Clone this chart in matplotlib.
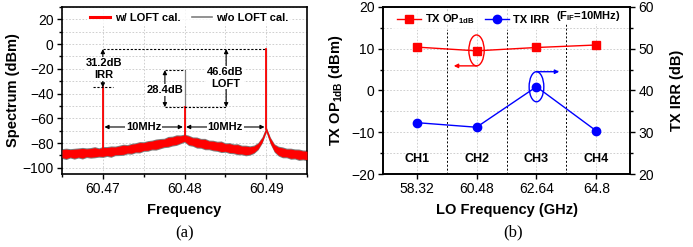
import matplotlib
matplotlib.use("Agg")
import matplotlib.pyplot as plt
from matplotlib.patches import Ellipse
from matplotlib.ticker import MultipleLocator, FixedLocator
from matplotlib.lines import Line2D
import numpy as np

plt.rcParams['font.family'] = ['Liberation Sans', 'DejaVu Sans']
plt.rcParams['mathtext.fontset'] = 'custom'
plt.rcParams['mathtext.rm'] = 'Liberation Sans'
plt.rcParams['mathtext.bf'] = 'Liberation Sans:bold'

# ---------------- Panel (a) data ----------------
noise_freq = [60.4650, 60.4655, 60.4660, 60.4665, 60.4670, 60.4675, 60.4680, 60.4685, 60.4690, 60.4695,
              60.4700, 60.4705, 60.4710, 60.4715, 60.4720, 60.4725, 60.4730, 60.4735, 60.4740, 60.4745,
              60.4750, 60.4755, 60.4760, 60.4765, 60.4770, 60.4775, 60.4780, 60.4785, 60.4790, 60.4795,
              60.4800, 60.4805, 60.4810, 60.4815, 60.4820, 60.4825, 60.4830, 60.4835, 60.4840, 60.4845,
              60.4850, 60.4855, 60.4860, 60.4865, 60.4870, 60.4875, 60.4880, 60.4885, 60.4890, 60.4895,
              60.4900, 60.4905, 60.4910, 60.4915, 60.4920, 60.4925, 60.4930, 60.4935, 60.4940, 60.4945,
              60.4950]
noise_center = [-88.5, -88.7, -88.3, -88.6, -88.0, -88.2, -87.8, -87.9, -87.4, -87.6,
                -87.2, -86.8, -86.9, -86.3, -85.9, -85.4, -85.0, -84.6, -83.8, -83.4,
                -82.8, -82.3, -81.6, -81.2, -80.5, -79.9, -79.0, -78.4, -77.6, -77.0,
                -76.0, -77.8, -78.8, -79.6, -80.2, -80.8, -81.5, -82.0, -82.6, -83.0,
                -83.6, -84.0, -84.6, -85.0, -85.6, -86.0, -86.0, -85.0, -82.5, -77.5,
                -69.0, -78.0, -84.0, -86.5, -87.5, -88.0, -88.6, -88.8, -89.4, -89.6,
                -90.0]
noise_half = [3.2, 3.8, 3.0, 3.6, 3.3, 3.9, 3.1, 3.5, 3.7, 3.0,
              3.6, 3.2, 3.8, 3.1, 3.4, 3.7, 3.0, 3.6, 3.3, 3.8,
              3.1, 3.5, 3.2, 3.7, 3.4, 3.0, 3.6, 3.2, 3.5, 2.8,
              2.5, 3.4, 3.0, 3.7, 3.2, 3.8, 3.1, 3.5, 3.3, 3.9,
              3.0, 3.6, 3.2, 3.7, 3.1, 3.5, 3.0, 2.6, 2.2, 1.8,
              1.5, 2.0, 2.6, 3.2, 3.6, 3.1, 3.7, 3.3, 3.8, 3.2,
              3.5]
tone_freq = [60.47, 60.48, 60.49]
tone_red = [-35, -51, -4]      # with LOFT calibration
tone_gray = [-35, -22, -4]     # without LOFT calibration
tone_base = [-86, -76, -69]

# ---------------- Panel (b) data ----------------
channels = ['CH1', 'CH2', 'CH3', 'CH4']
lo_freq_labels = ['58.32', '60.48', '62.64', '64.8']
tx_op1db = [10.4, 9.5, 10.3, 10.9]
tx_irr = [32.3, 31.2, 40.9, 30.3]

fig = plt.figure(figsize=(6.93, 2.47), dpi=100)

RED = '#ff0000'
GRAY = '#7f7f7f'
BLUE = '#0000ff'
grid_kw = dict(color='#c8c8c8', linestyle=(0, (2, 2)), linewidth=0.6)

# ================= Panel (a) =================
ax = fig.add_axes([62/693, 1-174/247, 245/693, 167/247])
nf = np.array(noise_freq)
nc = np.array(noise_center)
nh = np.array(noise_half)
ax.fill_between(nf, nc - nh - 0.8, nc + nh + 0.8, color=GRAY, lw=0, zorder=2)
ax.fill_between(nf, nc - nh, nc + nh, color=RED, lw=0, zorder=3)
for f, b, g in zip(tone_freq, tone_base, tone_gray):
    ax.plot([f, f], [b, g], color=GRAY, lw=0.9, zorder=2.5)
for f, b, r in zip(tone_freq, tone_base, tone_red):
    ax.plot([f, f], [b, r], color=RED, lw=1.3, zorder=3.5)

ax.set_xlim(60.465, 60.495)
ax.set_ylim(-105, 30)
ax.xaxis.set_major_locator(FixedLocator([60.47, 60.48, 60.49]))
ax.xaxis.set_minor_locator(MultipleLocator(0.005))
ax.yaxis.set_major_locator(MultipleLocator(20))
ax.yaxis.set_minor_locator(MultipleLocator(10))
ax.set_xticklabels(['60.47', '60.48', '60.49'])
ax.grid(True, which='both', **grid_kw)
ax.set_axisbelow(True)
ax.tick_params(which='both', direction='out', labelsize=10, width=1, pad=2.5)
ax.tick_params(which='major', length=3.5)
ax.tick_params(which='minor', length=2)
for s in ax.spines.values():
    s.set_linewidth(1.2)
ax.set_xlabel('Frequency', fontsize=10.5, fontweight='bold')
ax.set_ylabel('Spectrum (dBm)', fontsize=10.5, fontweight='bold')
ax.xaxis.set_label_coords(0.5, -0.174)
ax.yaxis.set_label_coords(-0.171, 0.5)

h1 = Line2D([], [], color=RED, lw=2.2)
h2 = Line2D([], [], color=GRAY, lw=1.2)
leg = ax.legend([h1, h2], ['w/ LOFT cal.', 'w/o LOFT cal.'], loc='upper center',
                bbox_to_anchor=(0.52, 1.02), ncol=2, frameon=True, fancybox=False,
                prop={'weight': 'bold', 'size': 8}, handlelength=1.8, handletextpad=0.4,
                columnspacing=1.0, borderpad=0.3)
leg.get_frame().set_facecolor('white')
leg.get_frame().set_edgecolor('none')

dash = dict(color='black', lw=0.8, linestyle=(0, (2, 1.5)), zorder=4)
ax.plot([60.47, 60.49], [-4, -4], **dash)
ax.plot([60.4688, 60.4712], [-35, -35], **dash)
ax.plot([60.4776, 60.48], [-21, -21], **dash)
ax.plot([60.4776, 60.4851], [-51, -51], **dash)

arr = dict(arrowstyle='<|-|>', color='black', lw=0.8, mutation_scale=6, shrinkA=0, shrinkB=0)
ax.annotate('', xy=(60.47, -4), xytext=(60.47, -35), arrowprops=arr, zorder=5)
ax.annotate('', xy=(60.4851, -4), xytext=(60.4851, -51), arrowprops=arr, zorder=5)
ax.annotate('', xy=(60.4776, -21), xytext=(60.4776, -51), arrowprops=arr, zorder=5)
ax.annotate('', xy=(60.4702, -67), xytext=(60.4798, -67), arrowprops=arr, zorder=5)
ax.annotate('', xy=(60.4802, -67), xytext=(60.4898, -67), arrowprops=arr, zorder=5)

tb = dict(facecolor='white', edgecolor='none', pad=0.5)
tk = dict(fontsize=8, fontweight='bold', ha='center', va='center', zorder=6, bbox=tb)
ax.text(60.4701, -20, '31.2dB\nIRR', linespacing=1.25, **tk)
ax.text(60.4776, -37, '28.4dB', **tk)
ax.text(60.4850, -27, '46.6dB\nLOFT', linespacing=1.25, **tk)
ax.text(60.475, -67, '10MHz', **tk)
ax.text(60.485, -67, '10MHz', **tk)

# ================= Panel (b) =================
bx = fig.add_axes([383/693, 1-174/247, 247/693, 167/247])
x = np.arange(len(channels))
bx.set_xlim(-0.56, 3.56)
bx.set_ylim(-20, 20)
bx.yaxis.set_major_locator(MultipleLocator(10))
bx.yaxis.set_minor_locator(MultipleLocator(5))
bx.set_xticks(x)
bx.set_xticklabels(lo_freq_labels)
bx.grid(True, which='both', axis='y', **grid_kw)
bx.grid(True, which='major', axis='x', **grid_kw)
bx.set_axisbelow(True)
for xm in [0.5, 1.5, 2.5]:
    bx.plot([xm, xm], [-20, 20], color='black', lw=0.7, linestyle=(0, (2, 2)), zorder=1)
bx.tick_params(which='both', direction='out', labelsize=10, width=1, pad=2.5)
bx.tick_params(which='major', length=3.5)
bx.tick_params(which='minor', length=2)
for s in bx.spines.values():
    s.set_linewidth(1.2)
bx.set_xlabel('LO Frequency (GHz)', fontsize=10.5, fontweight='bold')
bx.set_ylabel(r'TX OP$_{\mathbf{1dB}}$ (dBm)', fontsize=10.5, fontweight='bold')
bx.xaxis.set_label_coords(0.5, -0.174)
bx.yaxis.set_label_coords(-0.154, 0.5)

bx2 = bx.twinx()
bx2.set_ylim(20, 60)
bx2.yaxis.set_major_locator(MultipleLocator(10))
bx2.yaxis.set_minor_locator(MultipleLocator(5))
bx2.tick_params(which='both', direction='out', labelsize=10, width=1, pad=2.5)
bx2.tick_params(which='major', length=3.5)
bx2.tick_params(which='minor', length=2)
for s in bx2.spines.values():
    s.set_linewidth(1.2)
bx2.set_ylabel('TX IRR (dB)', fontsize=10.5, fontweight='bold')
bx2.yaxis.set_label_coords(1.162, 0.5)

l1, = bx.plot(x, tx_op1db, color=RED, lw=1.0, marker='s', ms=5.5, zorder=5)
l2, = bx2.plot(x, tx_irr, color=BLUE, lw=1.0, marker='o', ms=6, zorder=5)

for i, c in enumerate(channels):
    bx.text(i, -16.3, c, fontsize=9, fontweight='bold', ha='center', va='center')

# ellipses and arrows
bx.add_patch(Ellipse((1, 9.6), 0.256, 7.4, fill=False, edgecolor=RED, lw=1.0, zorder=6))
bx.annotate('', xy=(0.62, 5.9), xytext=(1.0, 5.9),
            arrowprops=dict(arrowstyle='-|>', color=RED, lw=1.0, mutation_scale=6,
                            shrinkA=0, shrinkB=0), zorder=6)
bx.add_patch(Ellipse((2, 0.9), 0.245, 7.2, fill=False, edgecolor=BLUE, lw=1.0, zorder=6))
bx.annotate('', xy=(2.38, 4.5), xytext=(2.0, 4.5),
            arrowprops=dict(arrowstyle='-|>', color=BLUE, lw=1.0, mutation_scale=6,
                            shrinkA=0, shrinkB=0), zorder=6)

leg2 = bx2.legend([l1, l2], [r'TX OP$_{\mathbf{1dB}}$', 'TX IRR'], loc='upper left',
                  bbox_to_anchor=(0.02, 1.02), ncol=2, frameon=True, fancybox=False,
                  prop={'weight': 'bold', 'size': 8}, handlelength=2.2, handletextpad=0.35,
                  columnspacing=0.9, borderpad=0.3)
leg2.get_frame().set_facecolor('white')
leg2.get_frame().set_edgecolor('none')
bx2.text(2.87, 57.8, r'(F$_{\mathbf{IF}}$=10MHz)', fontsize=8, fontweight='bold',
         ha='center', va='center', zorder=10,
         bbox=dict(facecolor='white', edgecolor='none', pad=0.5))

# captions
fig.text(185/693, 1-233/247, '(a)', fontsize=12, family=['Liberation Serif', 'DejaVu Serif'],
         ha='center', va='center')
fig.text(513/693, 1-232/247, '(b)', fontsize=12, family=['Liberation Serif', 'DejaVu Serif'],
         ha='center', va='center')

fig.savefig('out.png', dpi=100)
